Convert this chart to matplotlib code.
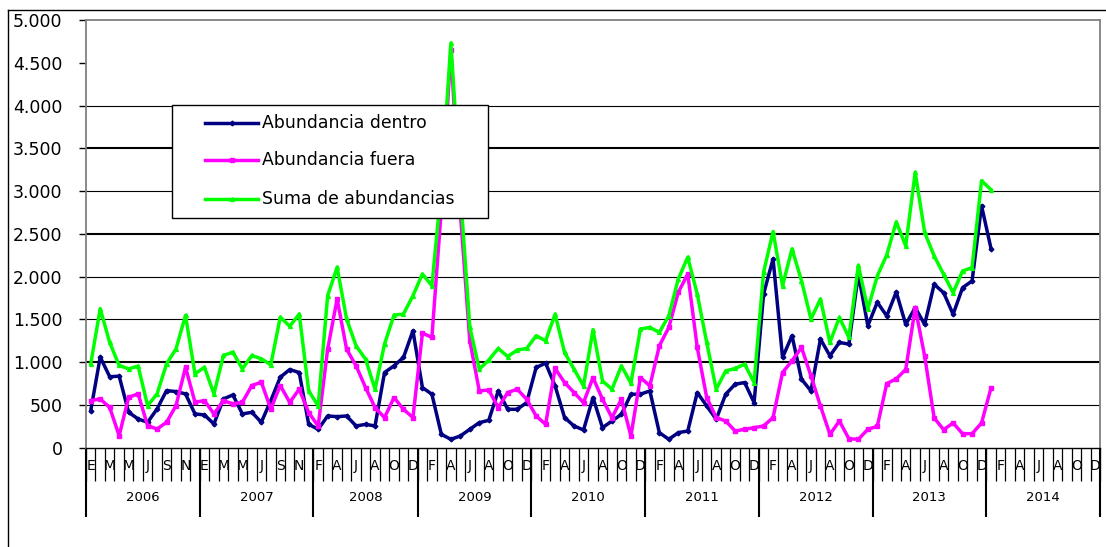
import matplotlib
matplotlib.use("Agg")
import matplotlib.pyplot as plt
from matplotlib.lines import Line2D
from matplotlib.patches import Rectangle
import numpy as np

# ---------------- data ----------------
years = [2006, 2007, 2008, 2009, 2010, 2011, 2012, 2013, 2014]
first_month = [1, 1, 2, 1, 1, 1, 1, 1, 1]   # 2008 starts in February
month_letters = ['E', 'F', 'M', 'A', 'M', 'J', 'J', 'A', 'S', 'O', 'N', 'D']

series_names = ["Abundancia dentro", "Abundancia fuera", "Suma de abundancias"]

dentro = [434, 1059, 830, 836, 414, 336, 297, 453, 668, 656, 629, 395,
          383, 277, 570, 617, 395, 414, 297, 551, 824, 914, 879, 273,
          215, 371, 363, 371, 254, 273, 254, 879, 957, 1055, 1367,
          703, 625, 156, 98, 137, 215, 293, 320, 664, 449, 449, 527,
          938, 988, 723, 352, 254, 207, 586, 234, 312, 391, 625, 625,
          664, 176, 98, 176, 195, 645, 488, 332, 625, 742, 762, 527,
          1797, 2207, 1055, 1309, 801, 664, 1270, 1074, 1230, 1211, 2030, 1426,
          1700, 1540, 1820, 1441, 1637, 1441, 1910, 1812, 1559, 1871, 1949, 2828,
          2328]

fuera = [551, 570, 470, 141, 590, 629, 258, 219, 297, 492, 941, 531,
         551, 395, 551, 512, 531, 727, 766, 453, 727, 530, 684, 410,
         254, 1152, 1738, 1152, 957, 703, 469, 352, 586, 449, 352,
         1340, 1289, 2800, 4650, 2750, 1250, 664, 674, 469, 645, 684, 566,
         371, 273, 926, 762, 645, 527, 820, 566, 352, 566, 137, 820,
         723, 1191, 1406, 1816, 2031, 1172, 586, 352, 312, 195, 215, 234,
         254, 352, 879, 1016, 1172, 840, 488, 156, 312, 105, 98, 215,
         250, 750, 805, 914, 1637, 1070, 348, 211, 289, 164, 164, 289,
         699]

suma = [980, 1625, 1230, 961, 922, 953, 492, 629, 980, 1156, 1547, 863,
        941, 629, 1078, 1117, 922, 1078, 1039, 969, 1527, 1420, 1562, 664,
        488, 1777, 2109, 1504, 1191, 1035, 684, 1211, 1551, 1562, 1777,
        2031, 1894, 3050, 4730, 3000, 1410, 918, 1025, 1160, 1066, 1141, 1160,
        1309, 1250, 1562, 1113, 918, 723, 1379, 781, 684, 957, 754, 1387,
        1406, 1348, 1543, 1973, 2227, 1797, 1230, 684, 898, 926, 977, 762,
        2051, 2527, 1894, 2324, 1953, 1504, 1738, 1230, 1523, 1289, 2130, 1621,
        2008, 2254, 2640, 2359, 3219, 2516, 2242, 2027, 1812, 2066, 2105, 3121,
        3016]

y_ticks = [0, 500, 1000, 1500, 2000, 2500, 3000, 3500, 4000, 4500, 5000]
grid_thick = [1000, 2500, 3500]
grid_skip = [4500]

# ---------------- category axis ----------------
cat_months = []
cat_years = []
for yr, fm in zip(years, first_month):
    for m in range(fm, 13):
        cat_months.append(m)
        cat_years.append(yr)
n_cat = len(cat_months)

# ---------------- figure ----------------
fig = plt.figure(figsize=(11.06, 5.47), dpi=100)
W, H = 1106, 547
ax = fig.add_axes([86 / W, 1 - 447.7 / H, 1014 / W, 427.7 / H])
ax.set_xlim(-0.5, n_cat - 0.5)
ax.set_ylim(0, 5000)

colors = ['#000080', '#FF00FF', '#00FF00']
markers = ['D', 's', '^']
msizes = [2.4, 2.8, 2.8]
datas = [dentro, fuera, suma]
for k, (d, c, mk, ms) in enumerate(zip(datas, colors, markers, msizes)):
    xs = np.arange(len(d))
    ax.plot(xs, d, color=c, lw=2.5, marker=mk, ms=ms, mfc=c, mec=c,
            solid_joinstyle='round', zorder=3 + k)

# gridlines
for v in y_ticks[1:-1]:
    if v in grid_skip:
        continue
    ax.axhline(v, color='black', lw=1.5 if v in grid_thick else 0.8, zorder=1)

# spines
for s in ['left', 'top', 'right']:
    ax.spines[s].set_color('#808080')
    ax.spines[s].set_linewidth(1.3)
ax.spines['bottom'].set_color('black')
ax.spines['bottom'].set_linewidth(1.0)

ax.set_yticks(y_ticks)
ax.set_yticklabels([f"{v:,}".replace(",", ".") for v in y_ticks], fontsize=12.5)
ax.tick_params(axis='y', length=5, width=1, pad=12, color='black')
ax.set_xticks([])

# multilevel category axis drawn below the plot
tr = ax.get_xaxis_transform()
bounds = np.arange(n_cat + 1) - 0.5
ax.vlines(bounds, -33 / 427.7, 0, transform=tr, colors='black', lw=0.9, clip_on=False)
for i in range(0, n_cat, 2):
    ax.text(i, -18.5 / 427.7, month_letters[cat_months[i] - 1], transform=tr,
            ha='center', va='center', fontsize=10, color='black')
year_bounds = [-0.5]
for yr in years:
    year_bounds.append(year_bounds[-1] + cat_years.count(yr))
ax.vlines(year_bounds, -69 / 427.7, 0, transform=tr, colors='black', lw=1.5, clip_on=False)
for yr, a, b in zip(years, year_bounds[:-1], year_bounds[1:]):
    ax.text((a + b) / 2, -49.5 / 427.7, str(yr), transform=tr,
            ha='center', va='center', fontsize=9.5, color='black')

# legend drawn as a boxed key
lx0, lx1 = (172 - 86) / 1014, (488 - 86) / 1014
ly1, ly0 = (447.7 - 105) / 427.7, (447.7 - 218) / 427.7
ax.add_patch(Rectangle((lx0, ly0), lx1 - lx0, ly1 - ly0, transform=ax.transAxes,
                       facecolor='white', edgecolor='black', lw=1.0, zorder=10))
row_y = [123, 160, 199]
for name, c, mk, ms, ry in zip(series_names, colors, markers, msizes, row_y):
    yy = (447.7 - ry) / 427.7
    ax.plot([(205 - 86) / 1014, (258 - 86) / 1014], [yy, yy], transform=ax.transAxes,
            color=c, lw=2.5, zorder=11)
    ax.plot([(231.5 - 86) / 1014], [yy], transform=ax.transAxes, color=c, marker=mk,
            ms=ms, zorder=11)
    ax.text((262 - 86) / 1014, yy, name, transform=ax.transAxes, fontsize=12.4,
            ha='left', va='center', zorder=12)

# outer chart-area border
fig.add_artist(Line2D([7.5 / W, 7.5 / W], [0, 1 - 9.5 / H], color='black', lw=1.0))
fig.add_artist(Line2D([7.5 / W, 1], [1 - 9.5 / H, 1 - 9.5 / H], color='black', lw=1.0))

fig.savefig("out.png", dpi=100)
